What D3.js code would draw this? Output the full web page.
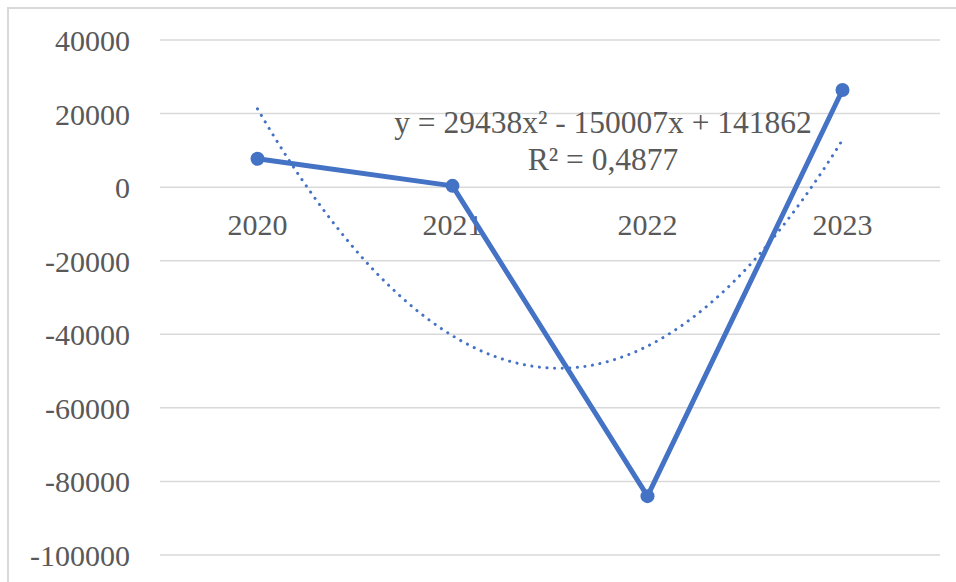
<!DOCTYPE html>
<html><head><meta charset="utf-8">
<script src="https://cdn.jsdelivr.net/npm/d3@7"></script>
<style>body{margin:0;background:#fff}svg{display:block}</style>
</head><body>
<svg id="c" width="956" height="582"></svg>
<script>
const categories = ["2020", "2021", "2022", "2023"];
const values = [7700, 350, -84000, 26400];
const yTicks = [40000, 20000, 0, -20000, -40000, -60000, -80000, -100000];
const trendCoef = [29438, -150007, 141862]; // a, b, c
const trendLabel = ["y = 29438x² - 150007x + 141862", "R² = 0,4877"];

(function () {
const svg = d3.select("#c");
const pLeft = 160, pRight = 940, pTop = 40, pBottom = 555;
const font = "'Liberation Serif','Times New Roman',serif";
const textColor = "#595959";
const blue = "#4472C4";

svg.append("rect").attr("x", 8).attr("y", 8).attr("width", 970).attr("height", 600)
  .attr("fill", "#fff").attr("stroke", "#d9d9d9").attr("stroke-width", 2);

const x = d3.scaleBand().domain(categories).range([pLeft, pRight]).padding(0);
const y = d3.scaleLinear().domain([-100000, 40000]).range([pBottom, pTop]);

// gridlines
svg.append("g").selectAll("line").data(yTicks).join("line")
  .attr("x1", pLeft).attr("x2", pRight)
  .attr("y1", d => y(d)).attr("y2", d => y(d))
  .attr("stroke", "#d9d9d9").attr("stroke-width", 1.5);

// y axis labels
const yAxis = d3.axisLeft(y).tickValues(yTicks).tickSize(0).tickPadding(0).tickFormat(d => String(d));
const gy = svg.append("g").attr("transform", `translate(130,0)`).call(yAxis);
gy.select(".domain").remove();
gy.selectAll("text").attr("font-family", font).attr("font-size", 30).attr("fill", textColor)
  .attr("dy", "0.35em");

// x axis labels (positioned below zero line)
const xAxis = d3.axisBottom(x).tickSize(0).tickPadding(0);
const gx = svg.append("g").attr("transform", `translate(0,${y(0) + 27})`).call(xAxis);
gx.select(".domain").remove();
gx.selectAll("text").attr("font-family", font).attr("font-size", 30).attr("fill", textColor)
  .attr("dy", "0.71em");

// trendline
const xi = d3.scaleLinear().domain([1, categories.length])
  .range([x(categories[0]) + x.bandwidth() / 2, x(categories[categories.length - 1]) + x.bandwidth() / 2]);
const tPts = d3.range(1, categories.length + 0.0001, 0.02).map(t => [t, trendCoef[0] * t * t + trendCoef[1] * t + trendCoef[2]]);
svg.append("path").datum(tPts)
  .attr("d", d3.line().x(d => xi(d[0])).y(d => y(d[1])))
  .attr("fill", "none").attr("stroke", blue).attr("stroke-width", 3)
  .attr("stroke-linecap", "round").attr("stroke-dasharray", "0.1 7.5");

// series line
const pts = categories.map((c, i) => [x(c) + x.bandwidth() / 2, y(values[i])]);
svg.append("path").datum(pts)
  .attr("d", d3.line())
  .attr("fill", "none").attr("stroke", blue).attr("stroke-width", 5)
  .attr("stroke-linejoin", "round");
svg.append("g").selectAll("circle").data(pts).join("circle")
  .attr("cx", d => d[0]).attr("cy", d => d[1]).attr("r", 7).attr("fill", blue);

// trend label
const lbl = svg.append("text").attr("font-family", font).attr("font-size", 31.5).attr("fill", textColor)
  .attr("text-anchor", "middle");
lbl.selectAll("tspan").data(trendLabel).join("tspan")
  .attr("x", 603).attr("y", (d, i) => 133 + i * 37).text(d => d);
})();
</script>
</body></html>
